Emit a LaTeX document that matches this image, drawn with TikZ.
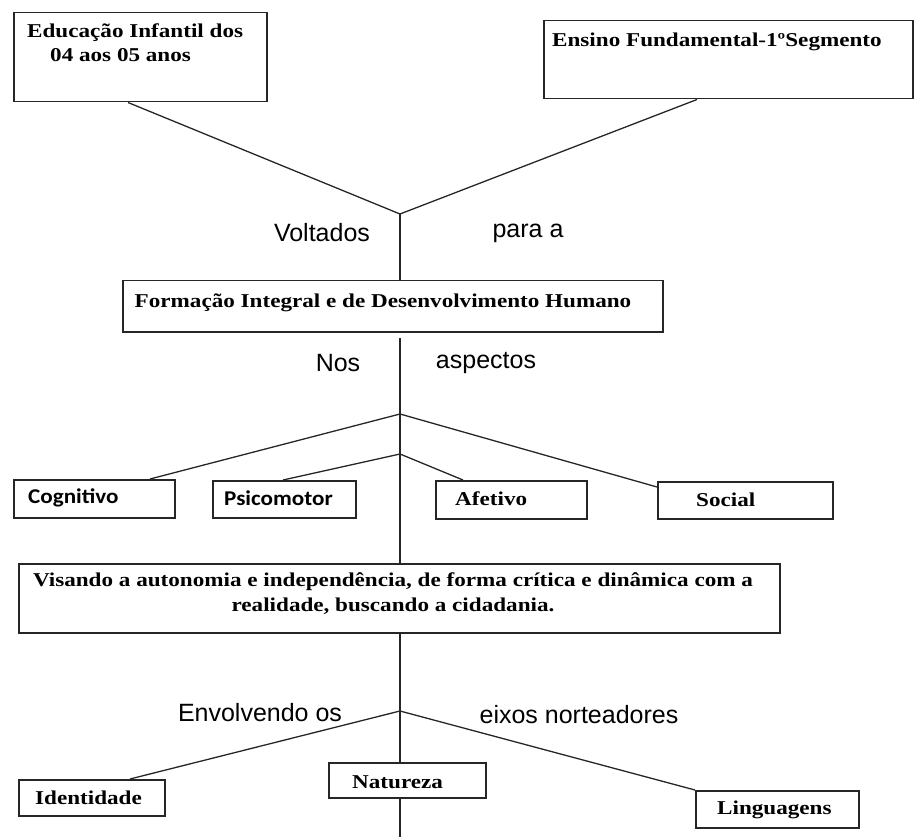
\documentclass[tikz,border=0pt]{standalone}
\usepackage{fontspec}
\setmainfont{Liberation Serif}
\newfontfamily\boxfont[FakeStretch=1.18]{Liberation Serif}
\newfontfamily\calfont[FakeStretch=1.1]{Carlito}
\newfontfamily\labfont{Liberation Sans}
\begin{document}
\begin{tikzpicture}[x=1pt,y=-1pt,
  boxst/.style={draw=black!85, line width=1.5pt, rectangle, inner sep=0pt, anchor=north west},
  txt/.style={font=\boxfont\bfseries\fontsize{19.6}{22}\selectfont, inner sep=0pt, anchor=west, text=black},
  caltxt/.style={font=\calfont\bfseries\fontsize{21}{24}\selectfont, inner sep=0pt, anchor=west, text=black},
  lab/.style={font=\labfont\fontsize{25}{28}\selectfont, inner sep=0pt, text=black},
  conn/.style={draw=black!85, line width=1.3pt}]
\useasboundingbox (0,0) rectangle (919,837);
% top boxes
\node[boxst, minimum width=253pt, minimum height=89pt] (b1) at (13,12) {};
\node[txt] (t1a) at (27,33) {Educação Infantil dos};
\node[txt] (t1b) at (50,55) {04 aos 05 anos};
\node[boxst, minimum width=369pt, minimum height=78pt] (b2) at (543,20) {};
\node[txt] (t2) at (552,42) {Ensino Fundamental-1ºSegmento};
\coordinate (j1) at (400,214);
\draw[conn] ([xshift=115pt]b1.south west) -- (j1);
\draw[conn] ([xshift=154pt]b2.south west) -- (j1);
\node[lab] (volt) at (322,233) {Voltados};
\node[lab] (para) at (528,233) {para a};
% box 3
\node[boxst, minimum width=540pt, minimum height=51pt] (b3) at (122,280) {};
\node[txt, anchor=center] (t3) at (383,303) {Formação Integral e de Desenvolvimento Humano};
\draw[conn] (j1) -- (j1 |- b3.north);
\coordinate (v2) at (400,338);
\coordinate (j2) at (400,414);
\coordinate (j3) at (400,454);
\node[lab] (nos) at (338,363) {Nos};
\node[lab] (asp) at (486,363) {aspectos};
% aspect boxes
\node[boxst, minimum width=161pt, minimum height=38pt] (cog) at (13,479) {};
\node[caltxt] (tcog) at (28,498) {Cognitivo};
\node[boxst, minimum width=143pt, minimum height=37pt] (psi) at (212,480) {};
\node[caltxt] (tpsi) at (224,498) {Psicomotor};
\node[boxst, minimum width=151pt, minimum height=38pt] (afe) at (435,480) {};
\node[txt] (tafe) at (455,499) {Afetivo};
\node[boxst, minimum width=175pt, minimum height=37pt] (soc) at (657,481) {};
\node[txt] (tsoc) at (696,500) {Social};
% big box
\node[boxst, minimum width=761pt, minimum height=69pt] (b4) at (18,563) {};
\node[txt, anchor=center, align=center, font=\boxfont\bfseries\fontsize{19.6}{25}\selectfont] (t4) at (393,594)
  {Visando a autonomia e independência, de forma crítica e dinâmica com a\\realidade, buscando a cidadania.};
\draw[conn] (v2) -- (j2) -- (j3) -- (j3 |- b4.north);
\draw[conn] (j2) -- ([xshift=137pt]cog.north west);
\draw[conn] (j2) -- ([yshift=-6pt]soc.north west);
\draw[conn] (j3) -- ([xshift=71pt]psi.north west);
\draw[conn] (j3) -- ([xshift=28pt]afe.north west);
% bottom part
\coordinate (j4) at (400,711);
\coordinate (bot) at (400,837);
\node[lab] (env) at (260,713) {Envolvendo os};
\node[lab] (eix) at (579,715) {eixos norteadores};
\node[boxst, minimum width=146pt, minimum height=36pt] (ide) at (18,779) {};
\node[txt] (tide) at (35,798) {Identidade};
\node[boxst, minimum width=157pt, minimum height=35pt] (nat) at (328,762) {};
\node[txt] (tnat) at (352,782) {Natureza};
\node[boxst, minimum width=163pt, minimum height=37pt] (lin) at (695,790) {};
\node[txt] (tlin) at (717,810) {Linguagens};
\draw[conn] (b4.south -| j4) -- (j4) -- (j4 |- nat.north);
\draw[conn] (j4 |- nat.south) -- (bot);
\draw[conn] (j4) -- ([xshift=112pt]ide.north west);
\draw[conn] (j4) -- (lin.north west);
\end{tikzpicture}
\end{document}
